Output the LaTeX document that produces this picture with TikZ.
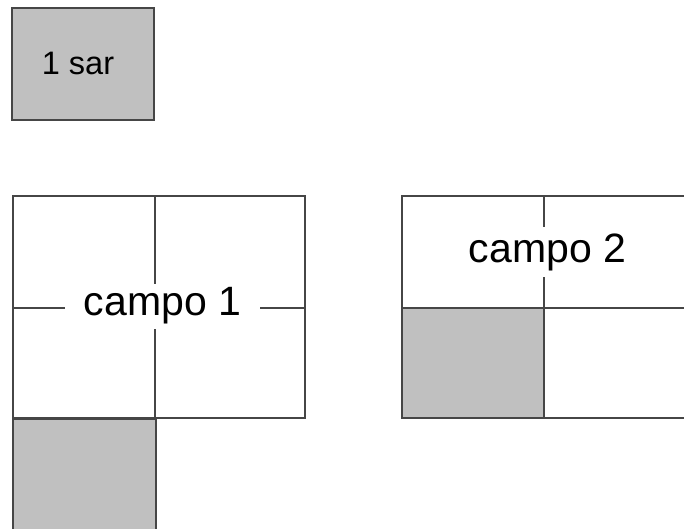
\documentclass[tikz,border=0pt]{standalone}
\usepackage{fontspec}
\setmainfont{Liberation Sans}
\definecolor{edge}{RGB}{70,70,70}
\definecolor{sarfill}{RGB}{192,192,192}
\begin{document}
\begin{tikzpicture}[x=1pt,y=-1pt,
  cell/.style={draw=edge,line width=2pt},
  shaded/.style={cell,fill=sarfill},
  bigtext/.style={font=\fontsize{41}{41}\selectfont,text=black,inner sep=0pt},
  gaplabel/.style={bigtext,fill=white}]
\useasboundingbox (0,0) rectangle (684,529);
\clip (0,0) rectangle (684,529);

% unit square: one sar
\draw[shaded] (12,8) rectangle (154,120);
\node[font=\fontsize{32.5}{32.5}\selectfont,inner sep=0pt] (sar) at (78,63) {1 sar};

% campo 1: 2x2 grid plus one extra square below
\draw[shaded] (13,419) rectangle (156,535);
\draw[cell] (13,196) rectangle (305,418);
\draw[cell] (155,196) -- (155,418);
\draw[cell] (13,308) -- (305,308);
\node[gaplabel,minimum width=195pt,minimum height=45pt] (c1) at (162.5,306) {campo 1};

% campo 2: 2x2 grid with the lower-left cell shaded
\draw[shaded] (402,308) rectangle (544,418);
\draw[cell] (402,196) rectangle (690,418);
\draw[cell] (544,196) -- (544,418);
\draw[cell] (402,308) -- (690,308);
\node[gaplabel,minimum width=170pt,minimum height=50pt] (c2) at (547.5,252) {campo 2};
\end{tikzpicture}
\end{document}
